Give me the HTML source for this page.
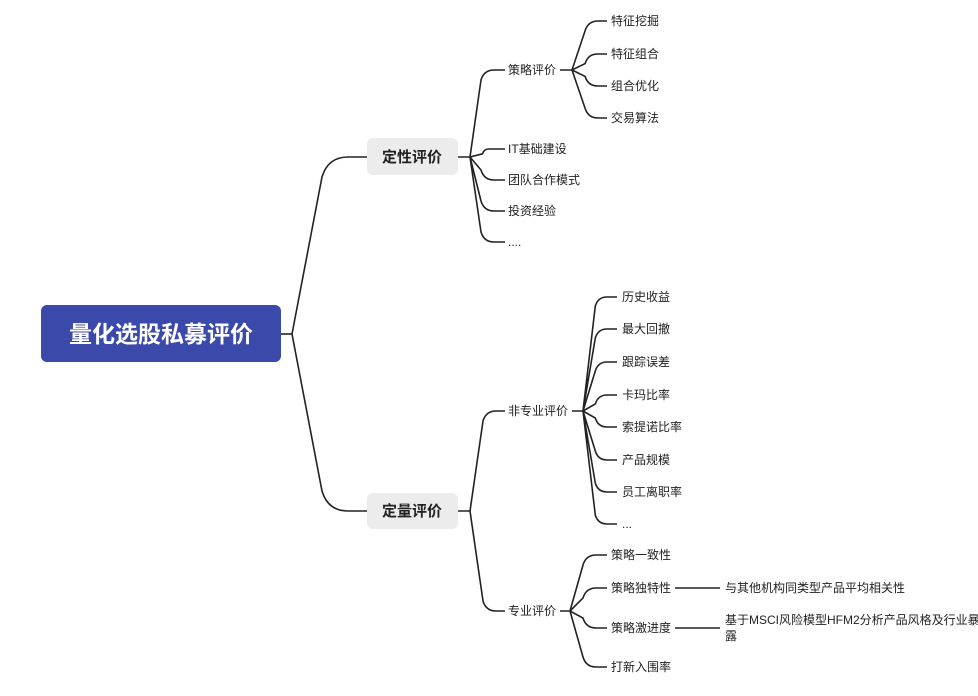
<!DOCTYPE html>
<html><head><meta charset="utf-8"><style>
html,body{margin:0;padding:0;background:#fff;width:978px;height:696px;overflow:hidden}
svg text{font-family:"Liberation Sans","Noto Sans CJK SC",sans-serif;fill:#222}
</style></head><body>
<svg id="s" width="978" height="696" xmlns="http://www.w3.org/2000/svg">
<rect x="41" y="305" width="240" height="57" rx="6" fill="#3a49aa"/>
<text x="161" y="342" text-anchor="middle" font-size="23" font-weight="bold" style="fill:#fff">量化选股私募评价</text>
<line x1="281" y1="334" x2="292" y2="334" stroke="#222" stroke-width="1.6"/>
<rect x="367" y="138" width="91" height="37" rx="6" fill="#ececec"/>
<text x="412" y="162" text-anchor="middle" font-size="15" font-weight="bold">定性评价</text>
<rect x="367" y="493" width="91" height="36" rx="6" fill="#ececec"/>
<text x="412" y="516" text-anchor="middle" font-size="15" font-weight="bold">定量评价</text>
<g id="c" fill="none" stroke="#222" stroke-width="1.6"></g>
<g font-size="12">
<text x="508" y="74">策略评价</text>
<text x="508" y="153">IT基础建设</text>
<text x="508" y="184">团队合作模式</text>
<text x="508" y="215">投资经验</text>
<text x="508" y="246">....</text>
<text x="611" y="25">特征挖掘</text>
<text x="611" y="58">特征组合</text>
<text x="611" y="90">组合优化</text>
<text x="611" y="122">交易算法</text>
<text x="508" y="415">非专业评价</text>
<text x="508" y="615">专业评价</text>
<text x="622" y="301">历史收益</text>
<text x="622" y="333">最大回撤</text>
<text x="622" y="366">跟踪误差</text>
<text x="622" y="399">卡玛比率</text>
<text x="622" y="431">索提诺比率</text>
<text x="622" y="464">产品规模</text>
<text x="622" y="496">员工离职率</text>
<text x="622" y="528">...</text>
<text x="611" y="559">策略一致性</text>
<text x="611" y="592">策略独特性</text>
<text x="611" y="632">策略激进度</text>
<text x="611" y="671">打新入围率</text>
<text x="725" y="592">与其他机构同类型产品平均相关性</text>
<text x="725" y="624">基于MSCI风险模型HFM2分析产品风格及行业暴</text>
<text x="725" y="640">露</text>
</g>
</svg>
<script>
var g=document.getElementById('c'),d='';
function c(hx,hy,cx,tx,ty,r){
 var dy=ty-hy;
 if(Math.abs(dy)<3){d+='M'+hx+','+hy+'L'+tx+','+ty;return;}
 var s=dy>0?1:-1; r=Math.min(r,Math.abs(dy)*0.6);
 d+='M'+hx+','+hy+'L'+(cx-r*0.3)+','+(ty-s*r)+'Q'+(cx)+','+ty+' '+(cx+r)+','+ty+'L'+tx+','+ty;
}
function l(x1,y,x2){d+='M'+x1+','+y+'L'+x2+','+y;}
c(292,334,328,367,157,20);c(292,334,328,367,511,20);
l(458,157,470);l(458,511,470);
[70,149,180,211,242].forEach(function(y){c(470,157,484,505,y,10)});
l(560,70,572);
[21,54,86,118].forEach(function(y){c(572,70,588,607,y,10)});
[411,611].forEach(function(y){c(470,511,486,505,y,10)});
l(572,411,583);
[297,329,362,395,427,460,492,524].forEach(function(y){c(583,411,598,617,y,9)});
l(560,611,570);
[555,588,628,667].forEach(function(y){c(570,611,586,607,y,10)});
l(675,588,720);l(675,628,720);
var p=document.createElementNS('http://www.w3.org/2000/svg','path');p.setAttribute('d',d);g.appendChild(p);
</script>
</body></html>
